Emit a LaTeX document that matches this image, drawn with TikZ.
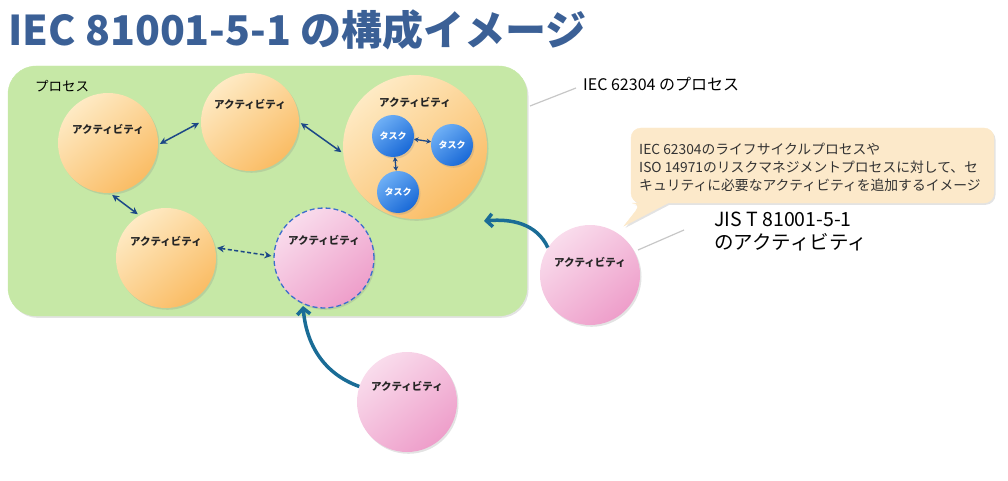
\documentclass[tikz,border=0pt]{standalone}
\usepackage{fontspec}
\setmainfont{Noto Sans CJK JP}
\usetikzlibrary{positioning,shadows,arrows.meta}

\definecolor{titleblue}{RGB}{59,96,150}
\definecolor{procgreen}{RGB}{198,232,166}
\definecolor{orL}{RGB}{254,234,196}
\definecolor{orD}{RGB}{250,188,100}
\definecolor{pkL}{RGB}{249,220,236}
\definecolor{pkD}{RGB}{238,158,202}
\definecolor{tkL}{RGB}{110,175,245}
\definecolor{tkD}{RGB}{25,105,215}
\definecolor{linkblue}{RGB}{28,72,135}
\definecolor{bigteal}{RGB}{26,108,150}
\definecolor{dashblue}{RGB}{60,110,205}
\definecolor{bubfill}{RGB}{252,233,202}

\begin{document}
\begin{tikzpicture}[x=1pt,y=-1pt,
  shd/.style={drop shadow={opacity=0.22,shadow xshift=1.5pt,shadow yshift=-1.8pt}},
  act/.style={circle,minimum size=100pt,inner sep=0pt,shd,top color=orL,bottom color=orD,shading angle=40},
  actpk/.style={circle,minimum size=100pt,inner sep=0pt,shd,top color=pkL,bottom color=pkD,shading angle=40},
  task/.style={circle,minimum size=42pt,inner sep=0pt,shd,top color=tkL,bottom color=tkD,shading angle=40,
    text=white,font=\fontsize{9}{10}\selectfont\bfseries},
  lbl/.style={font=\fontsize{10.5}{12}\selectfont\bfseries,text=black!85,inner sep=0pt},
  link/.style={linkblue,line width=1.5pt,{Stealth[length=7pt,width=7pt]}-{Stealth[length=7pt,width=7pt]}},
  tasklink/.style={linkblue,line width=1.3pt,{Stealth[length=4.5pt,width=5pt]}-{Stealth[length=4.5pt,width=5pt]}},
  bigarrow/.style={bigteal,line width=3.5pt,-{Straight Barb[length=6pt,width=13pt]}},
  greyline/.style={black!22,line width=1.2pt}]

  \useasboundingbox (0,0) rectangle (1008,481);

  % title
  \node[anchor=base west,inner sep=0pt,text=titleblue,font=\fontsize{41}{44}\selectfont\bfseries] (title) at (8,46) {IEC 81001-5-1 の構成イメージ};

  % process box
  \filldraw[procgreen,rounded corners=28pt,shd] (8,66) rectangle (527,316);
  \node[anchor=west,inner sep=0pt,font=\fontsize{13.5}{14}\selectfont] (proclbl) at (35,86) {プロセス};

  % activities
  \node[act] (a1) at (108,143) {};
  \node[act,minimum size=98pt] (a2) at (250,122) {};
  \node[act,minimum size=144pt] (a3) at (415,147) {};
  \node[act] (a4) at (166,258) {};
  \node[actpk,draw=dashblue,dash pattern=on 5pt off 3pt,line width=1.3pt] (a5) at (324,258) {};
  \node[actpk] (a6) at (590,275) {};
  \node[actpk] (a7) at (407,402) {};

  \node[lbl] (l1) at (108,129) {アクティビティ};
  \node[lbl] (l2) at (250,104) {アクティビティ};
  \node[lbl] (l3) at (415,102) {アクティビティ};
  \node[lbl] (l4) at (166,241) {アクティビティ};
  \node[lbl] (l5) at (324,240) {アクティビティ};
  \node[lbl] (l6) at (590,262) {アクティビティ};
  \node[lbl] (l7) at (407,386) {アクティビティ};

  % tasks
  \node[task] (t1) at (393,136) {タスク};
  \node[task] (t2) at (452,145) {タスク};
  \node[task] (t3) at (398,192) {タスク};

  % links
  \draw[link,shorten <=2pt,shorten >=2pt] (a1.-2) -- (a2.180);
  \draw[link,shorten <=2pt,shorten >=2pt] (a2.0) -- (a3.185);
  \draw[link,shorten <=3pt,shorten >=2pt] (a1.-88) -- (a4.122);
  \draw[link,dash pattern=on 4pt off 2.5pt,shorten <=2pt,shorten >=2pt] (a4.12) -- (a5.178);
  \draw[tasklink] (t1) -- (t2);
  \draw[tasklink] (t1) -- (t3);

  % added activities
  \coordinate (in3) at (484,221);
  \coordinate (in5) at (303,306);
  \draw[bigarrow] (a6.147) to[out=115,in=5] (in3);
  \draw[bigarrow] (a7.162) to[out=160,in=-85] (in5);

  % notes
  \node[anchor=base west,inner sep=0pt,font=\fontsize{16}{18}\selectfont] (iec) at (583,91) {IEC 62304 のプロセス};
  \coordinate (g1) at (530,106);
  \coordinate (g2) at (576,88);
  \draw[greyline] (g1) -- (g2);

  \node[anchor=north west,inner sep=0pt,align=left,font=\fontsize{19.5}{23}\selectfont] (jis) at (714,212) {JIS T 81001-5-1\\のアクティビティ};
  \coordinate (g3) at (638,250);
  \coordinate (g4) at (684,230);
  \draw[greyline] (g3) -- (g4);

  % bubble
  \filldraw[bubfill,shd,rounded corners=10pt] (668,203) -- (994,203) -- (994,128) -- (631,128) -- (631,203) -- (642,203) [sharp corners] -- (624,226) -- cycle;
  \node[anchor=north west,inner sep=0pt,align=left,text=black!80,font=\fontsize{13.8}{18}\selectfont] (bub) at (639,143)
    {IEC 62304のライフサイクルプロセスや\\ISO 14971のリスクマネジメントプロセスに対して、セ\\キュリティに必要なアクティビティを追加するイメージ};
\end{tikzpicture}
\end{document}
